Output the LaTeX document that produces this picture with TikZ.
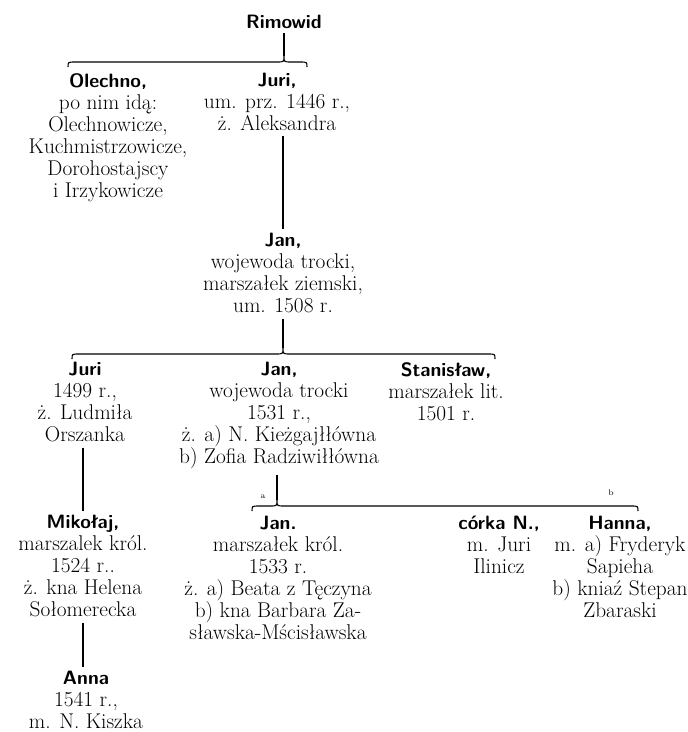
\documentclass[tikz,border=0pt]{standalone}
\usetikzlibrary{calc}

\newcommand{\pname}[1]{{\fontsize{14.5}{16.5}\selectfont\sffamily\bfseries #1}}

\begin{document}
\begin{tikzpicture}[
    x=0.75pt, y=-0.75pt,
    font=\fontsize{16}{16.5}\selectfont,
    person/.style={anchor=north, align=center, inner sep=0pt},
    tag/.style={font=\fontsize{6}{6}\selectfont, inner sep=0pt},
    link/.style={line width=0.8pt}
]
    \useasboundingbox (0,0) rectangle (688,732);

    % Persons
    \node[person] (rimowid) at (284,15) {\pname{Rimowid}};
    \node[person] (olechno) at (108,73) {\pname{Olechno,}\\ po nim idą:\\ Olechnowicze,\\ Kuchmistrzowicze,\\ Dorohostajscy\\ i Irzykowicze};
    \node[person] (juri) at (277,73) {\pname{Juri,}\\ um. prz. 1446 r.,\\ ż. Aleksandra};
    \node[person] (jan) at (283,233) {\pname{Jan,}\\ wojewoda trocki,\\ marszałek ziemski,\\ um. 1508 r.};
    \node[person] (juri2) at (85,362) {\pname{Juri}\\ 1499 r.,\\ ż. Ludmiła\\ Orszanka};
    \node[person] (jan2) at (279,362) {\pname{Jan,}\\ wojewoda trocki\\ 1531 r.,\\ ż. a) N. Kieżgajłłówna\\ b) Zofia Radziwiłłówna};
    \node[person] (stanislaw) at (446,362) {\pname{Stanisław,}\\ marszałek lit.\\ 1501 r.};
    \node[person] (mikolaj) at (83,515) {\pname{Mikołaj,}\\ marszalek król.\\ 1524 r..\\ ż. kna Helena\\ Sołomerecka};
    \node[person] (jan3) at (278,516) {\pname{Jan.}\\ marszałek król.\\ 1533 r.\\ ż. a) Beata z Tęczyna\\ b) kna Barbara Za-\\ sławska-Mścisławska};
    \node[person] (corka) at (499,516) {\pname{córka N.,}\\ m. Juri\\ Ilinicz};
    \node[person] (hanna) at (620,516) {\pname{Hanna,}\\ m. a) Fryderyk\\ Sapieha\\ b) kniaź Stepan\\ Zbaraski};
    \node[person] (anna) at (86,671) {\pname{Anna}\\ 1541 r.,\\ m. N. Kiszka};

    % Bracket coordinates
    \coordinate (b1l) at (68,62);
    \coordinate (b1c) at (284,62);
    \coordinate (b1t) at (284,56);
    \coordinate (b1r) at (307,62);

    \coordinate (b2l) at (72,354);
    \coordinate (b2c) at (283,354);
    \coordinate (b2t) at (283,348);
    \coordinate (b2r) at (495,354);

    \coordinate (b3l) at (252,506);
    \coordinate (b3c) at (277,506);
    \coordinate (b3t) at (277,500);
    \coordinate (b3r) at (638,506);

    % Brackets
    \draw[link] ($(b1l)+(0,5)$) .. controls (b1l) .. ($(b1l)+(7,0)$) -- ($(b1c)+(-7,0)$)
        .. controls (b1c) .. (b1t) .. controls (b1c) .. ($(b1c)+(7,0)$)
        -- ($(b1r)+(-7,0)$) .. controls (b1r) .. ($(b1r)+(0,5)$);
    \draw[link] ($(b2l)+(0,5)$) .. controls (b2l) .. ($(b2l)+(7,0)$) -- ($(b2c)+(-7,0)$)
        .. controls (b2c) .. (b2t) .. controls (b2c) .. ($(b2c)+(7,0)$)
        -- ($(b2r)+(-7,0)$) .. controls (b2r) .. ($(b2r)+(0,5)$);
    \draw[link] ($(b3l)+(0,5)$) .. controls (b3l) .. ($(b3l)+(7,0)$) -- ($(b3c)+(-7,0)$)
        .. controls (b3c) .. (b3t) .. controls (b3c) .. ($(b3c)+(7,0)$)
        -- ($(b3r)+(-7,0)$) .. controls (b3r) .. ($(b3r)+(0,5)$);

    % Marriage tags
    \node[tag] (taga) at (263,497) {a};
    \node[tag] (tagb) at (611,493) {b};

    % Descent lines
    \draw[link, shorten <=3pt] (rimowid.south) -- (b1t);
    \draw[link, shorten <=4pt, shorten >=3pt] (jan.north |- juri.south) -- (jan.north);
    \draw[link, shorten <=4pt] (jan.south) -- (b2t);
    \draw[link, shorten <=4pt, shorten >=3pt] (mikolaj.north |- juri2.south) -- (mikolaj.north);
    \draw[link, shorten <=4pt] (b3t |- jan2.south) -- (b3t);
    \draw[link, shorten <=4pt, shorten >=3pt] (mikolaj.south) -- (mikolaj.south |- anna.north);

\end{tikzpicture}
\end{document}
